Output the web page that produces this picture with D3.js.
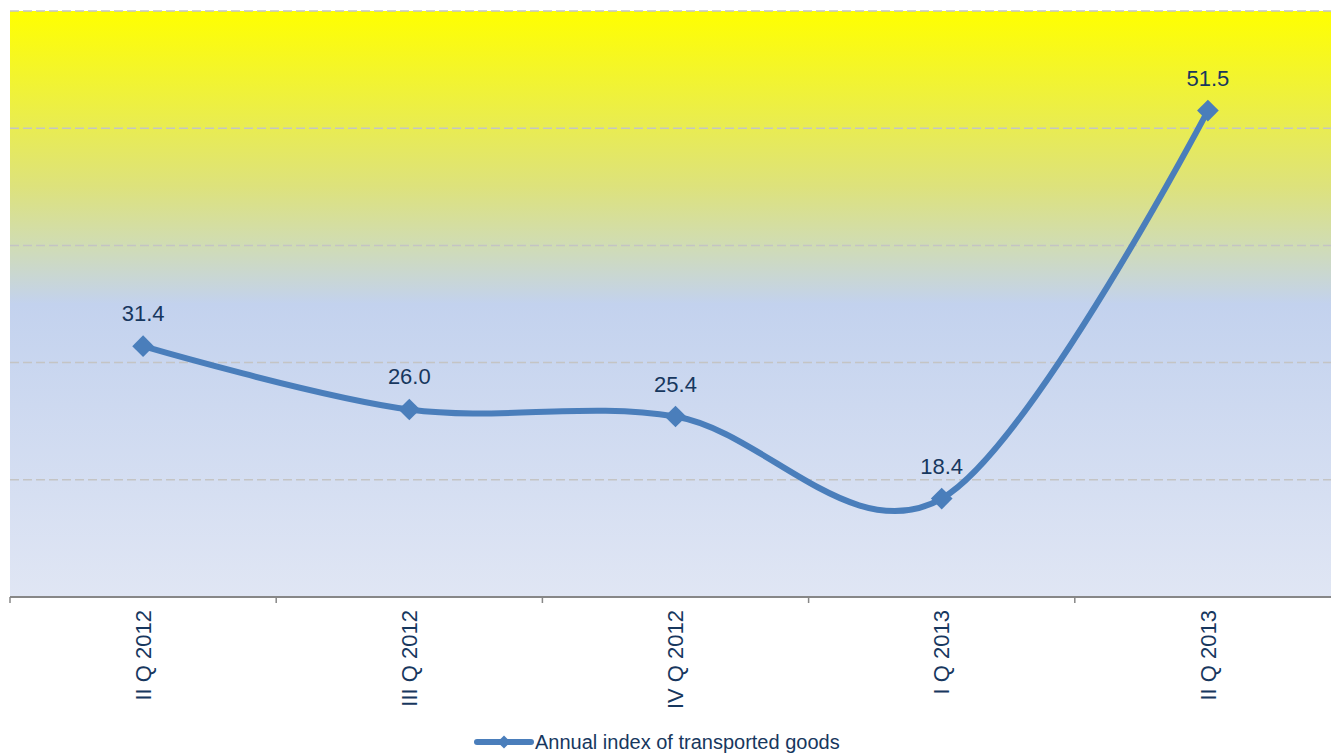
<!DOCTYPE html>
<html>
<head>
<meta charset="utf-8">
<script src="https://cdn.jsdelivr.net/npm/d3@7"></script>
<style>
  body { margin: 0; background: #fff; }
  svg { display: block; font-family: Arial, "Liberation Sans", sans-serif; }
</style>
</head>
<body>
<svg id="chart" width="1331" height="753"></svg>
<script>
// chart data
const categories = ['II Q 2012', 'III Q 2012', 'IV Q 2012', 'I Q 2013', 'II Q 2013'];
const values = [31.4, 26.0, 25.4, 18.4, 51.5];
const gridTicks = [10, 20, 30, 40, 50, 60];
const seriesName = 'Annual index of transported goods';

const svg = d3.select('#chart');
const plotLeft = 10, plotTop = 11, plotRight = 1341, plotBottom = 597;

const x = d3.scaleBand().domain(categories).range([plotLeft, plotRight]);
const y = d3.scaleLinear().domain([10, 60]).range([plotBottom, plotTop]);

// background gradient
const grad = svg.append('defs').append('linearGradient')
    .attr('id', 'bg').attr('x1', 0).attr('y1', 0).attr('x2', 0).attr('y2', 1);
grad.append('stop').attr('offset', '0%').attr('stop-color', '#ffff00');
grad.append('stop').attr('offset', '30%').attr('stop-color', '#dde27c');
grad.append('stop').attr('offset', '40%').attr('stop-color', '#d0dcb4');
grad.append('stop').attr('offset', '50%').attr('stop-color', '#c3d2ee');
grad.append('stop').attr('offset', '100%').attr('stop-color', '#e0e6f4');

svg.append('rect')
    .attr('x', plotLeft).attr('y', plotTop)
    .attr('width', plotRight - plotLeft).attr('height', plotBottom - plotTop)
    .attr('fill', 'url(#bg)');

// dashed grid
svg.append('g').selectAll('line').data(gridTicks.slice(1)).join('line')
    .attr('x1', plotLeft).attr('x2', plotRight)
    .attr('y1', d => y(d)).attr('y2', d => y(d))
    .attr('stroke', '#c4c4c4').attr('stroke-width', 1.5)
    .attr('stroke-dasharray', '9,4');

// x axis
const axis = svg.append('g');
axis.append('line')
    .attr('x1', plotLeft).attr('x2', plotRight).attr('y1', plotBottom).attr('y2', plotBottom)
    .attr('stroke', '#878787').attr('stroke-width', 2);
axis.selectAll('.tk').data(categories).join('line')
    .attr('x1', d => x(d)).attr('x2', d => x(d))
    .attr('y1', plotBottom).attr('y2', plotBottom + 6)
    .attr('stroke', '#878787').attr('stroke-width', 1.5);
axis.selectAll('text').data(categories).join('text')
    .attr('transform', d => `translate(${x(d) + x.bandwidth() / 2},610) rotate(-90)`)
    .attr('text-anchor', 'end').attr('dy', '0.35em')
    .attr('fill', '#17375e').attr('font-size', 22)
    .text(d => d);

// line
const pts = categories.map((c, i) => [x(c) + x.bandwidth() / 2, y(values[i])]);
svg.append('path')
    .attr('d', d3.line().curve(d3.curveCardinal.tension(0))(pts))
    .attr('fill', 'none').attr('stroke', '#4a7ebb').attr('stroke-width', 6)
    .attr('stroke-linecap', 'round');

const diamond = d3.symbol().type(d3.symbolDiamond2).size(300);
svg.append('g').selectAll('path').data(pts).join('path')
    .attr('transform', d => `translate(${d[0]},${d[1]})`)
    .attr('d', diamond).attr('fill', '#4a7ebb');

svg.append('g').selectAll('text').data(pts).join('text')
    .attr('x', d => d[0]).attr('y', d => d[1] - 25)
    .attr('text-anchor', 'middle')
    .attr('fill', '#17375e').attr('font-size', 22)
    .text((d, i) => values[i].toFixed(1));

// legend
const lg = svg.append('g');
lg.append('line').attr('x1', 477).attr('x2', 531).attr('y1', 742).attr('y2', 742)
    .attr('stroke', '#4a7ebb').attr('stroke-width', 6).attr('stroke-linecap', 'round');
lg.append('path').attr('transform', 'translate(504,742)')
    .attr('d', d3.symbol().type(d3.symbolDiamond2).size(110)).attr('fill', '#4a7ebb');
lg.append('text').attr('x', 535).attr('y', 749)
    .attr('fill', '#17375e').attr('font-size', 20)
    .text(seriesName);
</script>
</body>
</html>
